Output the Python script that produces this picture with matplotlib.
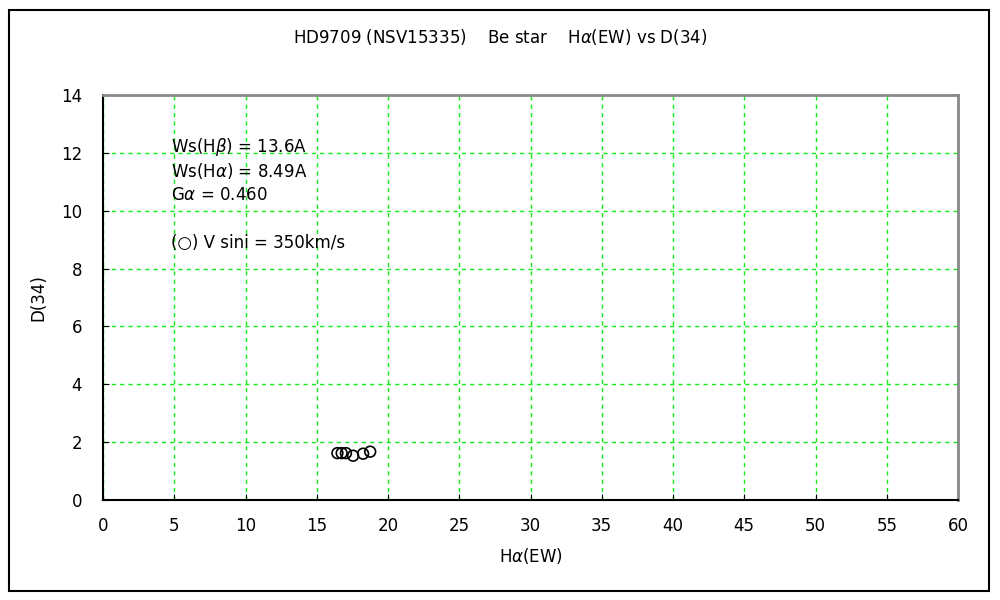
import matplotlib.pyplot as plt
from matplotlib.patches import Rectangle

# H-alpha equivalent width vs D(34) for HD9709
ha_ew = [16.45, 16.75, 17.05, 17.55, 18.25, 18.75]
d34 = [1.62, 1.62, 1.62, 1.53, 1.60, 1.67]

x_ticks = list(range(0, 61, 5))
y_ticks = list(range(0, 15, 2))

notes = [
    (12.2, "Ws(H$\\beta$) = 13.6A"),
    (11.37, "Ws(H$\\alpha$) = 8.49A"),
    (10.53, "G$\\alpha$ = 0.460"),
    (8.9, "(\u25cb) V sini = 350km/s"),
]

plt.rcParams["font.family"] = ["DejaVu Sans"]
plt.rcParams["mathtext.fontset"] = "dejavusans"
plt.rcParams["font.size"] = 12

fig = plt.figure(figsize=(10, 6), dpi=100)
fig.patches.append(Rectangle((0.009, 0.015), 0.98, 0.968, transform=fig.transFigure,
                             fill=False, edgecolor="black", lw=1.5))
ax = fig.add_axes([0.103, 0.1667, 0.855, 0.675])

ax.scatter(ha_ew, d34, s=60, facecolors="none", edgecolors="black", linewidths=1.2, zorder=3)

ax.set_xlim(0, 60)
ax.set_ylim(0, 14)
ax.set_xticks(x_ticks)
ax.set_yticks(y_ticks)
ax.grid(True, color="#11ee11", ls=(0, (3, 3)), lw=1)
ax.tick_params(direction="in", length=4, color="black")
ax.tick_params(axis="y", pad=15)
ax.tick_params(axis="x", pad=12)

for side in ("top", "right"):
    ax.spines[side].set_color("#888888")
    ax.spines[side].set_linewidth(2)
for side in ("left", "bottom"):
    ax.spines[side].set_color("black")
    ax.spines[side].set_linewidth(1.5)

for y, s in notes:
    ax.text(4.77, y, s, fontsize=12, va="center", ha="left")

ax.set_xlabel("H$\\alpha$(EW)", labelpad=8)
ax.set_ylabel("D(34)", labelpad=10)
fig.text(0.5, 0.938, "HD9709 (NSV15335)    Be star    H$\\alpha$(EW) vs D(34)",
         ha="center", va="center", fontsize=12)

fig.savefig("out.png")
